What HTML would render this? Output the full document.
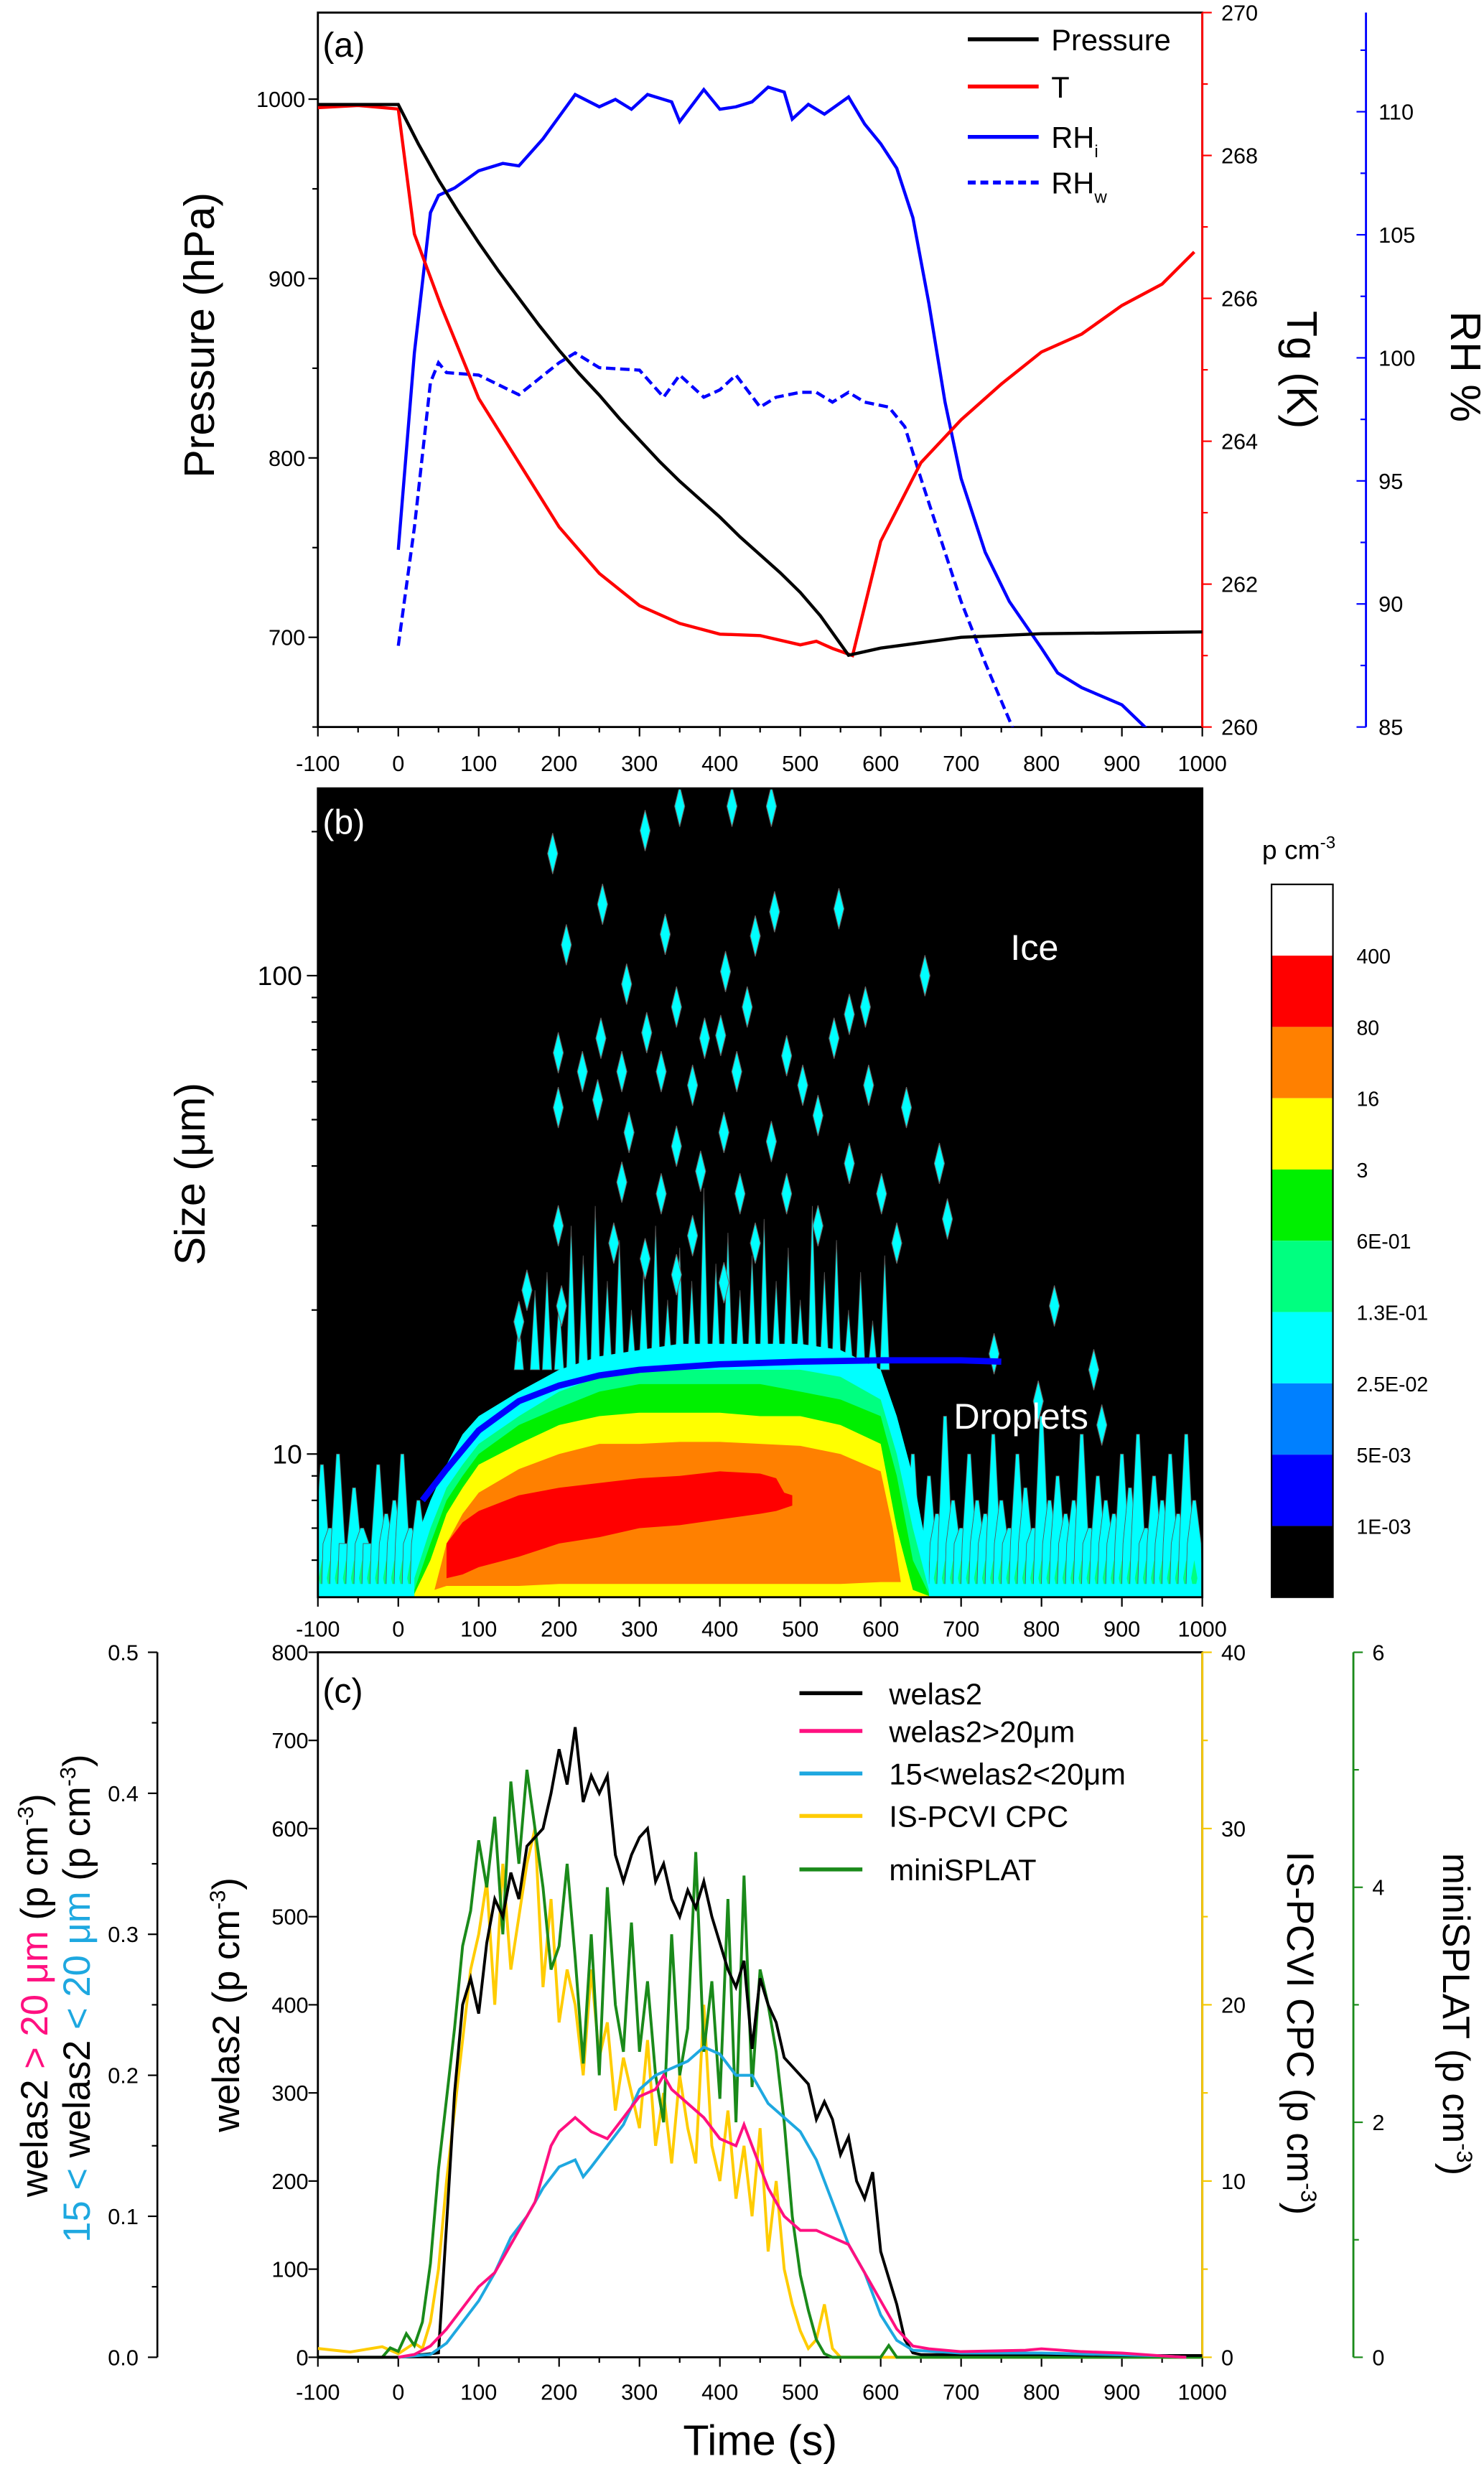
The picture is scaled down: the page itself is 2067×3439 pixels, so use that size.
<!DOCTYPE html>
<html><head><meta charset="utf-8"><style>
html,body{margin:0;padding:0;background:#fff}
svg{display:block}
text{font-family:"Liberation Sans",sans-serif}
</style></head><body>
<svg id="fig" xmlns="http://www.w3.org/2000/svg" width="2067" height="3439" viewBox="0 0 943 1569" preserveAspectRatio="none">
<rect x="0" y="0" width="943" height="1569" fill="#fff"/>
<g id="pa"></g>
<g id="pb"></g>
<g id="pc"></g>
</svg>
<script>
// ---------- Panel (a) data ----------
const aXTicks=[-100,0,100,200,300,400,500,600,700,800,900,1000];
const pTime=[-100,0,25,50,75,100,125,150,175,200,225,250,275,300,325,350,375,400,425,450,475,500,525,560,600,650,700,750,800,900,1000];
const pVal=[997,997,975,955,937,920,904,889,874,860,847,835,822,810,798,787,777,767,756,746,736,725,712,690,694,697,700,701,702,702.5,703];
const tTime=[-100,-50,0,20,53,100,150,200,250,300,350,400,450,500,520,540,565,600,650,700,750,800,850,900,950,990];
const tVal=[268.67,268.7,268.65,266.9,265.9,264.6,263.7,262.8,262.15,261.7,261.45,261.3,261.28,261.15,261.2,261.1,261.0,262.6,263.7,264.3,264.8,265.25,265.5,265.9,266.2,266.65];
const rhiTime=[0,20,40,50,70,100,130,150,180,200,220,250,270,290,310,340,350,380,400,420,440,460,480,490,510,530,560,580,600,620,640,660,680,700,730,760,800,820,850,900,935];
const rhiVal=[92.2,100.2,105.9,106.6,106.9,107.6,107.9,107.8,108.9,109.8,110.7,110.2,110.5,110.1,110.7,110.4,109.6,110.9,110.1,110.2,110.4,111,110.8,109.7,110.3,109.9,110.6,109.5,108.7,107.7,105.7,102.2,98.2,95.1,92.1,90.1,88.2,87.2,86.6,85.9,84.8];
const rhwTime=[0,20,40,50,60,100,150,200,220,250,300,330,350,380,400,420,450,470,500,520,540,560,580,610,630,650,680,700,730,765];
const rhwVal=[88.3,93.1,99,99.8,99.4,99.3,98.5,99.8,100.2,99.6,99.5,98.4,99.3,98.4,98.7,99.3,98,98.4,98.6,98.6,98.2,98.6,98.2,98,97.2,95.1,92.1,90.1,87.6,84.9];
const pTicks=[700,800,900,1000];
const tgTicks=[260,262,264,266,268,270];
const rhTicks=[85,90,95,100,105,110];

// ---------- Panel (b) data ----------
const bTimes=[20,40,60,80,100,150,200,250,300,350,400,450,500,550,600,620,640,660];
const lvlCyan=[6.5,8,9.5,11,12,13.5,15,16,16.5,17,17,17,17,16.5,15,12,9,6];
const lvlMint=[5.5,7,8.5,9.5,10.5,12,13.5,14.5,15,15,15,15,15,14.5,13,10,7,5.2];
const lvlGreen=[5.2,6.5,8,9,10,11.5,12.5,13.5,14,14,14,14,13.5,13,12,9,6,5.1];
const lvlYellow=[5.1,6,7.5,8.5,9.5,10.5,11.5,12,12.2,12.2,12.2,12,12,11.5,10.5,7,5.2,5.05];
const orTimes=[45,60,80,100,150,200,250,300,350,400,450,500,550,600,615,625];
const orTop=[5.2,6.5,7.5,8.3,9.3,10,10.5,10.5,10.6,10.6,10.5,10.4,10,9.2,7,5.4];
const orBot=[5.2,5.3,5.3,5.3,5.3,5.35,5.35,5.35,5.35,5.35,5.35,5.35,5.35,5.4,5.4,5.4];
const redTimes=[60,80,100,150,200,250,300,350,400,450,470,480,490];
const redTop=[6.5,7.2,7.6,8.2,8.5,8.7,8.9,9,9.2,9.1,8.9,8.3,8.2];
const redBot=[5.5,5.6,5.8,6.1,6.5,6.7,7,7.1,7.3,7.5,7.6,7.7,7.8];
const noiseTimes=[-95,-85,-75,-65,-55,-45,-35,-25,-15,-5,5,15,25,640,650,660,670,680,690,700,710,720,730,740,750,760,770,780,790,800,810,820,830,840,850,860,870,880,890,900,910,920,930,940,950,960,970,980,990];
const noiseTops=[9.5,7,10,6.5,8.5,7,6.5,9.5,7.5,8,10,7,8,10,7,9,7.5,12,8,7,10,8,7.5,11,8,7,10,8.5,7,12,8,9,7.5,8,11,7,9,8,7.5,10,8.5,11,7,9,8,10,7.5,11,8];
const spikeT=[150,170,185,200,215,230,245,260,275,290,305,320,335,350,365,380,395,410,425,440,455,470,485,500,515,530,545,560,575,590,605];
const spikeTop=[19,22,24,21,30,26,33,23,28,20,24,30,21,27,23,36,25,29,22,26,31,23,27,21,33,24,28,20,24,19,26];
const iceT=[350,415,464,307,192,254,548,209,332,444,468,284,407,655,346,434,309,381,401,252,561,199,229,278,327,366,421,483,503,542,581,248,199,287,346,405,464,522,585,632,278,327,376,425,483,561,601,673,199,268,366,444,522,620,683,160,203,307,346,405,816,741,865,796,875,150];
const iceS=[226,226,226,201,180,141,138,116,122,121,136,96,102,100,86,86,76,74,75,74,83,69,63,63,63,59,63,68,59,74,86,55,53,47,44,47,45,51,59,53,37,35,39,35,35,40.5,35,40.5,30,27.6,28.6,27.6,30,27.6,31,22,20.4,25.6,23.7,22.8,20.4,16.2,15,12.9,11.5,18.9];
const fitTime=[30,60,100,150,200,250,300,400,500,600,700,750];
const fitSize=[8,9.3,11.2,12.9,13.9,14.6,15,15.4,15.6,15.7,15.7,15.6];
const bYTicks=[10,100];
const cbLabels=["400","80","16","3","6E-01","1.3E-01","2.5E-02","5E-03","1E-03"];
const cbColors=["#ffffff","#ff0000","#ff8000","#ffff00","#00f000","#00ff80","#00ffff","#0080ff","#0000ff","#000000"];

// ---------- Panel (c) data ----------
const welTime=[-100,-50,0,50,60,70,80,90,100,110,120,130,140,150,160,170,180,190,200,210,220,230,240,250,260,270,280,290,300,310,320,330,340,350,360,370,380,390,400,410,420,430,440,450,460,470,480,490,500,510,520,530,540,550,560,570,580,590,600,610,620,630,640,650,700,800,900,1000];
const welVal=[0,0,0,5,150,300,400,430,390,470,520,500,550,520,580,590,600,640,690,650,715,630,660,640,660,570,540,570,590,600,540,560,520,500,530,510,540,500,470,440,420,450,350,430,400,380,340,330,320,310,270,290,270,230,250,200,180,210,120,90,60,20,5,3,3,3,2,2];
const pinkTime=[0,20,40,60,80,100,120,140,160,170,180,190,200,210,220,240,260,280,300,320,330,340,360,380,400,420,430,440,460,480,500,520,540,560,580,600,620,640,660,700,780,800,850,900,950,980];
const pinkVal=[0,0.002,0.008,0.02,0.035,0.05,0.06,0.08,0.1,0.11,0.13,0.15,0.16,0.165,0.17,0.16,0.155,0.17,0.185,0.19,0.2,0.19,0.18,0.17,0.155,0.15,0.165,0.15,0.12,0.1,0.09,0.09,0.085,0.08,0.06,0.04,0.02,0.008,0.006,0.004,0.005,0.006,0.004,0.003,0.001,0];
const blueTime=[0,40,60,80,100,120,140,160,180,200,220,230,240,260,280,300,320,340,360,380,400,420,440,460,480,500,520,540,560,580,600,620,640,700,800,950,980];
const blueVal=[0,0.002,0.01,0.025,0.04,0.06,0.085,0.1,0.12,0.135,0.14,0.128,0.135,0.15,0.165,0.19,0.2,0.205,0.21,0.22,0.215,0.2,0.2,0.18,0.17,0.16,0.14,0.11,0.08,0.06,0.03,0.012,0.005,0.003,0.003,0.001,0];
const cpcTime=[-100,-60,-20,0,20,30,40,50,60,70,80,90,100,110,120,130,140,150,160,170,180,190,200,210,220,230,240,250,260,270,280,290,300,310,320,330,340,350,360,370,380,390,400,410,420,430,440,450,460,470,480,490,500,510,520,530,540,550,1000];
const cpcVal=[0.5,0.3,0.6,0.2,0.8,0.5,2,5,10,14,18,22,24,27,20,28,22,25,28,30,21,26,19,22,20,16,22,17,19,14,17,15,13,18,12,15,11,16,13,11,20,12,10,14,9,12,8,13,6,10,5,3,1.5,0.5,1,3,0.5,0,0];
const splTime=[-100,-20,-10,0,10,20,30,40,50,60,70,80,90,100,110,120,130,140,150,160,170,180,190,200,210,220,230,240,250,260,270,280,290,300,310,320,330,340,350,360,370,380,390,400,410,420,430,440,450,460,470,480,490,500,510,520,530,540,600,610,620,1000];
const splVal=[0,0,0.08,0.05,0.2,0.1,0.3,0.8,1.6,2.2,2.8,3.5,3.8,4.4,4.0,4.6,3.6,4.9,4.2,5.0,4.5,4.0,3.3,3.5,4.2,3.4,2.5,3.6,2.4,4.0,3.0,2.6,3.7,2.6,3.2,2.4,2.0,3.6,2.4,2.8,4.3,2.6,3.2,2.2,3.9,2.0,4.1,2.3,3.3,3.0,2.6,2.0,1.2,0.7,0.4,0.15,0.03,0,0,0.1,0,0];
const cWelTicks=[0,100,200,300,400,500,600,700,800];
const cLeftTicks=["0.0","0.1","0.2","0.3","0.4","0.5"];
const cCpcTicks=[0,10,20,30,40];
const cSplTicks=[0,2,4,6];

// ---------- helpers ----------
const NS="http://www.w3.org/2000/svg";
function mk(parent,tag,attrs,txt){const e=document.createElementNS(NS,tag);for(const k in attrs)e.setAttribute(k,attrs[k]);if(txt!==undefined)e.textContent=txt;parent.appendChild(e);return e;}
const X0=202,X1=764;
const xT=t=>X0+(t+100)*(X1-X0)/1100;
function pathFrom(ts,vs,fy){return ts.map((t,i)=>(i?'L':'M')+xT(t).toFixed(2)+','+fy(vs[i]).toFixed(2)).join('');}
function xAxis(g,yAxis,labelY,name){
  aXTicks.forEach((t,i)=>{
    const l=mk(g,'line',{x1:xT(t),x2:xT(t),y1:yAxis,y2:yAxis+6,stroke:'#000','stroke-width':1});
    
    if(i<aXTicks.length-1){mk(g,'line',{x1:xT(t+50),x2:xT(t+50),y1:yAxis,y2:yAxis+3.5,stroke:'#000','stroke-width':1});}
    const tx=mk(g,'text',{x:xT(t),y:labelY,'font-size':14,'text-anchor':'middle'},String(t));
    
  });
}

// ================= Panel A =================
(function(){
const g=document.getElementById('pa');
const T=8,B=462;
const yP=p=>63+(1000-p)*(405-63)/300;
const yT=v=>B-(v-260)*(B-T)/10;
const yR=v=>71+(110-v)*(462-71)/25;
mk(g,'defs',{}).innerHTML='<clipPath id="clipA"><rect x="202" y="8" width="562" height="454"/></clipPath>';
const fr=mk(g,'rect',{x:X0,y:T,width:X1-X0,height:B-T,fill:'none',stroke:'#000','stroke-width':1.3});

xAxis(g,B,490,'a-x-axis');
pTicks.forEach(p=>{mk(g,'line',{x1:X0-6,x2:X0,y1:yP(p),y2:yP(p),stroke:'#000'});
  const t=mk(g,'text',{x:X0-8,y:yP(p)+5,'font-size':14,'text-anchor':'end'},String(p));
  });
[650,750,850,950,1050].forEach(p=>{if(yP(p)>=T&&yP(p)<=B)mk(g,'line',{x1:X0-3.5,x2:X0,y1:yP(p),y2:yP(p),stroke:'#000'});});
let t=mk(g,'text',{x:0,y:0,'font-size':27,'text-anchor':'middle',transform:'translate(136,213) rotate(-90)'},'Pressure (hPa)');

mk(g,'line',{x1:X1,x2:X1,y1:T,y2:B,stroke:'#f00','stroke-width':1.3});
tgTicks.forEach(v=>{mk(g,'line',{x1:X1,x2:X1+6,y1:yT(v),y2:yT(v),stroke:'#f00'});
  const l=mk(g,'text',{x:X1+12,y:yT(v)+5,'font-size':14},String(v));
  });
[261,263,265,267,269].forEach(v=>mk(g,'line',{x1:X1,x2:X1+3.5,y1:yT(v),y2:yT(v),stroke:'#f00'}));
t=mk(g,'text',{x:0,y:0,'font-size':27,'text-anchor':'middle',transform:'translate(818,235) rotate(90)'},'Tg (K)');

mk(g,'line',{x1:868,x2:868,y1:T,y2:B,stroke:'#00f','stroke-width':1.3});
rhTicks.forEach(v=>{mk(g,'line',{x1:862,x2:868,y1:yR(v),y2:yR(v),stroke:'#00f'});
  const l=mk(g,'text',{x:876,y:yR(v)+5,'font-size':14},String(v));
  });
[87.5,92.5,97.5,102.5,107.5,112.5].forEach(v=>mk(g,'line',{x1:864.5,x2:868,y1:yR(v),y2:yR(v),stroke:'#00f'}));
t=mk(g,'text',{x:0,y:0,'font-size':27,'text-anchor':'middle',transform:'translate(922,233) rotate(90)'},'RH %');

const cg=mk(g,'g',{'clip-path':'url(#clipA)'});
let s=mk(cg,'path',{d:pathFrom(rhwTime,rhwVal,yR),fill:'none',stroke:'#00f','stroke-width':2,'stroke-dasharray':'6,3'});

s=mk(cg,'path',{d:pathFrom(rhiTime,rhiVal,yR),fill:'none',stroke:'#00f','stroke-width':2});

s=mk(cg,'path',{d:pathFrom(tTime,tVal,yT),fill:'none',stroke:'#f00','stroke-width':2});

s=mk(cg,'path',{d:pathFrom(pTime,pVal,yP),fill:'none',stroke:'#000','stroke-width':2});

t=mk(g,'text',{x:205,y:36,'font-size':22},'(a)');
const leg=[['Pressure','#000',0,25],['T','#f00',0,55],['RH','#00f',0,87,'i'],['RH','#00f',1,116,'w']];
leg.forEach(l=>{const lg=mk(g,'g',{});
  mk(lg,'line',{x1:615,x2:660,y1:l[3],y2:l[3],stroke:l[1],'stroke-width':2.5,'stroke-dasharray':l[2]?'5,3':'none'});
  const tx=mk(lg,'text',{x:668,y:l[3]+7,'font-size':19},l[0]);
  if(l[4])mk(tx,'tspan',{'font-size':11,dy:6},l[4]);});
})();

// ================= Panel B =================
(function(){
const g=document.getElementById('pb');
const T=501,B=1015;
const yS=s=>924-(Math.log10(s)-1)*304;
mk(g,'defs',{}).innerHTML='<clipPath id="clipB"><rect x="202" y="501" width="562" height="514"/></clipPath>';
const bg=mk(g,'rect',{x:X0,y:T,width:X1-X0,height:B-T,fill:'#000'});

const cg=mk(g,'g',{'clip-path':'url(#clipB)'});
function band(ts,top,bot,color,name){
  let d='M'+ts.map((tt,i)=>xT(tt).toFixed(2)+','+yS(top[i]).toFixed(2)).join('L');
  for(let i=ts.length-1;i>=0;i--)d+='L'+xT(ts[i]).toFixed(2)+','+(bot?yS(bot[i]):B+2).toFixed(2);
  const p=mk(cg,'path',{d:d+'Z',fill:color});
  
}
noiseTimes.forEach((tt,i)=>{
  const w=5.5,xc=xT(tt),yt=yS(noiseTops[i]);
  const p=mk(cg,'path',{d:`M${xc-w},${B+2}L${xc-w*0.8},${yS(6.5)}L${xc-1},${yt}L${xc+1},${yt}L${xc+w*0.8},${yS(6.5)}L${xc+w},${B+2}Z`,fill:'#00ffff',stroke:'#555','stroke-width':0.4});
  
  mk(cg,'path',{d:`M${xc},${yS(6.0)}L${xc+2},${yS(5.5)}L${xc},${yS(5.1)}L${xc-2},${yS(5.5)}Z`,fill:'#00ff80'});
});
mk(cg,'rect',{x:X0,y:yS(5.35),width:X1-X0,height:B-yS(5.35)+2,fill:'#00ffff'});
spikeT.forEach((tt,i)=>{
  const xc=xT(tt),yt=yS(spikeTop[i]);
  const p=mk(cg,'path',{d:`M${xc-3},${yS(15)}L${xc},${yt}L${xc+3},${yS(15)}Z`,fill:'#00ffff',stroke:'#555','stroke-width':0.4});
  
});
band(bTimes,lvlCyan,null,'#00ffff','level-cyan');
band(bTimes,lvlMint,null,'#00ff80','level-mint');
band(bTimes,lvlGreen,null,'#00f000','level-green');
band(bTimes,lvlYellow,null,'#ffff00','level-yellow');
band(orTimes,orTop,orBot,'#ff8000','level-orange');
band(redTimes,redTop,redBot,'#ff0000','level-red');
iceT.forEach((tt,i)=>{
  const xc=xT(tt),yc=yS(iceS[i]);
  const p=mk(cg,'path',{d:`M${xc},${yc-13}L${xc+3.2},${yc}L${xc},${yc+13}L${xc-3.2},${yc}Z`,fill:'#00ffff',stroke:'#666','stroke-width':0.5});
  
});
const fit=mk(cg,'path',{d:pathFrom(fitTime,fitSize,yS),fill:'none',stroke:'#0000ff','stroke-width':4});

let t=mk(g,'text',{x:642,y:610,'font-size':23,fill:'#fff'},'Ice');
t=mk(g,'text',{x:606,y:908,'font-size':23,fill:'#fff'},'Droplets');
t=mk(g,'text',{x:205,y:530,'font-size':22,fill:'#fff'},'(b)');
mk(g,'rect',{x:X0,y:T,width:X1-X0,height:B-T,fill:'none',stroke:'#000','stroke-width':1.3});
xAxis(g,B,1040,'b-x-axis');
bYTicks.forEach(v=>{mk(g,'line',{x1:X0-7,x2:X0,y1:yS(v),y2:yS(v),stroke:'#000'});
  const l=mk(g,'text',{x:X0-10,y:yS(v)+6,'font-size':17,'text-anchor':'end'},String(v));
  });
[6,7,8,9,20,30,40,50,60,70,80,90,200].forEach(v=>{const y=yS(v);if(y>=T&&y<=B)mk(g,'line',{x1:X0-4,x2:X0,y1:y,y2:y,stroke:'#000'});});
t=mk(g,'text',{x:0,y:0,'font-size':27,'text-anchor':'middle',transform:'translate(130,746) rotate(-90)'},'Size (μm)');

const cb=mk(g,'g',{});
const cbT=562,cbB=1015,h=(cbB-cbT)/cbColors.length;
cbColors.forEach((c,i)=>mk(cb,'rect',{x:808,y:cbT+i*h,width:39,height:h,fill:c}));
mk(cb,'rect',{x:808,y:cbT,width:39,height:cbB-cbT,fill:'none',stroke:'#000','stroke-width':1});
cbLabels.forEach((l,i)=>{const tx=mk(cb,'text',{x:862,y:cbT+(i+1)*h+5,'font-size':13},l);
  });
const ct=mk(g,'text',{x:802,y:546,'font-size':17},'p cm');mk(ct,'tspan',{'font-size':11,dy:-7},'-3');

})();

// ================= Panel C =================
(function(){
const g=document.getElementById('pc');
const T=1050,B=1498;
const yW=v=>B-v*(B-T)/800;
const yL=v=>B-v*(B-T)/0.5;
const yC=v=>B-v*(B-T)/40;
const yG=v=>B-v*(B-T)/6;
mk(g,'defs',{}).innerHTML='<clipPath id="clipC"><rect x="202" y="1050" width="562" height="450"/></clipPath>';
mk(g,'rect',{x:X0,y:T,width:X1-X0,height:B-T,fill:'none',stroke:'#000','stroke-width':1.3});
xAxis(g,B,1525,'c-x-axis');
let t=mk(g,'text',{x:483,y:1560,'font-size':27,'text-anchor':'middle'},'Time (s)');

cWelTicks.forEach(v=>{mk(g,'line',{x1:X0-6,x2:X0,y1:yW(v),y2:yW(v),stroke:'#000'});
  const l=mk(g,'text',{x:X0-6,y:yW(v)+5,'font-size':14,'text-anchor':'end'},String(v));
  });
t=mk(g,'text',{x:0,y:0,'font-size':24,'text-anchor':'middle',transform:'translate(152,1274) rotate(-90)'},'welas2 (p cm');
mk(t,'tspan',{'font-size':14,dy:-9},'-3');mk(t,'tspan',{dy:9},')');

mk(g,'line',{x1:100,x2:100,y1:T,y2:B,stroke:'#000','stroke-width':1.2});
cLeftTicks.forEach(v=>{const y=yL(+v);mk(g,'line',{x1:94,x2:100,y1:y,y2:y,stroke:'#000'});
  const l=mk(g,'text',{x:88,y:y+5,'font-size':14,'text-anchor':'end'},v);
  });
[0.05,0.15,0.25,0.35,0.45].forEach(v=>mk(g,'line',{x1:96.5,x2:100,y1:yL(v),y2:yL(v),stroke:'#000'}));
t=mk(g,'text',{x:0,y:0,'font-size':24,'text-anchor':'middle',transform:'translate(30,1268) rotate(-90)'});
t.innerHTML='welas2 <tspan fill="#ff1080">&gt; 20 μm</tspan>  (p cm<tspan font-size="14" dy="-9">-3</tspan><tspan dy="9">)</tspan>';

t=mk(g,'text',{x:0,y:0,'font-size':24,'text-anchor':'middle',transform:'translate(57,1270) rotate(-90)'});
t.innerHTML='<tspan fill="#1ea8e0">15 &lt; </tspan>welas2<tspan fill="#1ea8e0"> &lt; 20 μm</tspan> (p cm<tspan font-size="14" dy="-9">-3</tspan><tspan dy="9">)</tspan>';

mk(g,'line',{x1:X1,x2:X1,y1:T,y2:B,stroke:'#f5c800','stroke-width':1.3});
cCpcTicks.forEach(v=>{mk(g,'line',{x1:X1,x2:X1+6,y1:yC(v),y2:yC(v),stroke:'#f5c800'});
  const l=mk(g,'text',{x:X1+12,y:yC(v)+5,'font-size':14},String(v));
  });
[5,15,25,35].forEach(v=>mk(g,'line',{x1:X1,x2:X1+3.5,y1:yC(v),y2:yC(v),stroke:'#f5c800'}));
t=mk(g,'text',{x:0,y:0,'font-size':24,'text-anchor':'middle',transform:'translate(818,1292) rotate(90)'},'IS-PCVI CPC (p cm');
mk(t,'tspan',{'font-size':14,dy:-9},'-3');mk(t,'tspan',{dy:9},')');

mk(g,'line',{x1:860,x2:860,y1:T,y2:B,stroke:'#1a8a1a','stroke-width':1.3});
cSplTicks.forEach(v=>{mk(g,'line',{x1:860,x2:866,y1:yG(v),y2:yG(v),stroke:'#1a8a1a'});
  const l=mk(g,'text',{x:872,y:yG(v)+5,'font-size':14},String(v));
  });
[1,3,5].forEach(v=>mk(g,'line',{x1:860,x2:863.5,y1:yG(v),y2:yG(v),stroke:'#1a8a1a'}));
t=mk(g,'text',{x:0,y:0,'font-size':24,'text-anchor':'middle',transform:'translate(917,1280) rotate(90)'},'miniSPLAT (p cm');
mk(t,'tspan',{'font-size':14,dy:-9},'-3');mk(t,'tspan',{dy:9},')');

const cg=mk(g,'g',{'clip-path':'url(#clipC)'});
let s=mk(cg,'path',{d:pathFrom(cpcTime,cpcVal,yC),fill:'none',stroke:'#ffcc00','stroke-width':1.8});

s=mk(cg,'path',{d:pathFrom(splTime,splVal,yG),fill:'none',stroke:'#1a8a1a','stroke-width':1.8});

s=mk(cg,'path',{d:pathFrom(welTime,welVal,yW),fill:'none',stroke:'#000','stroke-width':1.8});

s=mk(cg,'path',{d:pathFrom(blueTime,blueVal,yL),fill:'none',stroke:'#1ea8e0','stroke-width':1.8});

s=mk(cg,'path',{d:pathFrom(pinkTime,pinkVal,yL),fill:'none',stroke:'#ff1080','stroke-width':1.8});

t=mk(g,'text',{x:205,y:1082,'font-size':22},'(c)');
const leg=[['welas2','#000',1076],['welas2>20μm','#ff1080',1100],['15<welas2<20μm','#1ea8e0',1127],['IS-PCVI CPC','#ffcc00',1154],['miniSPLAT','#1a8a1a',1188]];
leg.forEach(l=>{const lg=mk(g,'g',{});
  mk(lg,'line',{x1:508,x2:548,y1:l[2],y2:l[2],stroke:l[1],'stroke-width':2.5});
  mk(lg,'text',{x:565,y:l[2]+7,'font-size':19},l[0]);});
})();
</script>
</body></html>
